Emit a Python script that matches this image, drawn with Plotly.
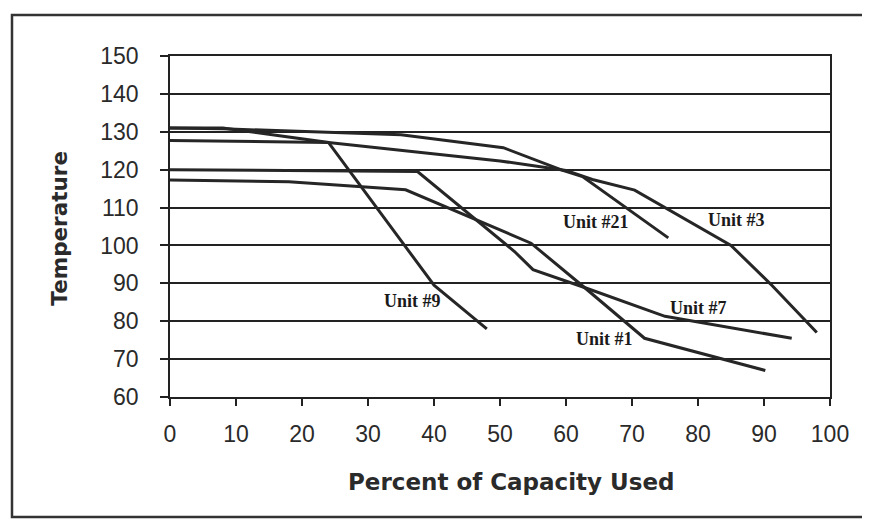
import plotly.graph_objects as go

# Data (Percent of Capacity Used vs Temperature)
unit9_x = [0, 8, 24, 36.5, 40, 48]
unit9_y = [131, 131, 127.2, 98, 89.5, 78]

unit21_x = [0, 8, 35, 50.5, 59.5, 62.5, 75.5]
unit21_y = [131, 130.8, 129.2, 125.8, 119.8, 118.2, 102]

unit3_x = [0, 24, 50, 60, 64, 70.4, 85, 91, 98]
unit3_y = [127.7, 127.2, 122.3, 119.8, 117.4, 114.6, 100, 89.8, 77]

unit7_x = [0, 37.5, 52.2, 55, 62.8, 75, 94.2]
unit7_y = [120, 119.5, 98.4, 93.6, 88.9, 81.3, 75.5]

unit1_x = [0, 18, 35.7, 54.7, 62.8, 71.9, 90.2]
unit1_y = [117.3, 116.8, 114.7, 100.6, 88.9, 75.5, 67]

label_names = ["Unit #21", "Unit #3", "Unit #9", "Unit #7", "Unit #1"]
label_x = [64.6, 85.9, 36.8, 80.0, 65.9]
label_y = [106.3, 106.8, 85.3, 83.4, 75.4]

x_ticks = [0, 10, 20, 30, 40, 50, 60, 70, 80, 90, 100]
y_ticks = [60, 70, 80, 90, 100, 110, 120, 130, 140, 150]

line_color = "#262626"

fig = go.Figure()
series = [
    ("Unit #9", unit9_x, unit9_y),
    ("Unit #21", unit21_x, unit21_y),
    ("Unit #3", unit3_x, unit3_y),
    ("Unit #7", unit7_x, unit7_y),
    ("Unit #1", unit1_x, unit1_y),
]
for name, xs, ys in series:
    fig.add_trace(go.Scatter(x=xs, y=ys, mode="lines", name=name,
                             line=dict(color=line_color, width=3),
                             showlegend=False))

for name, lx, ly in zip(label_names, label_x, label_y):
    fig.add_annotation(x=lx, y=ly, text=f"<b>{name}</b>", showarrow=False,
                       font=dict(family="Liberation Serif", size=18, color="#1a1a1a"),
                       xanchor="center", yanchor="middle")

# Axis titles
fig.add_annotation(xref="paper", yref="paper", x=0.518, y=-0.249,
                   text="<b>Percent of Capacity Used</b>", showarrow=False,
                   font=dict(family="DejaVu Sans", size=23, color="#2a2a2a"),
                   xanchor="center", yanchor="middle")
fig.add_annotation(xref="paper", yref="paper", x=-0.167, y=0.496,
                   text="<b>Temperature</b>", showarrow=False, textangle=-90,
                   font=dict(family="DejaVu Sans", size=21.5, color="#2a2a2a"),
                   xanchor="center", yanchor="middle")

# Outer chart frame
fig.add_shape(type="rect", xref="paper", yref="paper",
              x0=-0.2394, x1=1.1, y0=-0.352, y1=1.12,
              line=dict(color="#333333", width=2.5), layer="below")

fig.update_xaxes(range=[0, 100], tickvals=x_ticks, ticks="outside", ticklen=7,
                 tickwidth=1.5, tickcolor="#222", showline=True, linecolor="#222",
                 linewidth=1.5, mirror=True, showgrid=False, zeroline=False,
                 tickfont=dict(family="Liberation Sans", size=23, color="#2a2a2a"),
                 ticklabelstandoff=9)
fig.update_yaxes(range=[60, 150], tickvals=y_ticks, ticks="outside", ticklen=8,
                 tickwidth=1.5, tickcolor="#222", showline=True, linecolor="#222",
                 linewidth=1.5, mirror=True, showgrid=True, gridcolor="#222",
                 gridwidth=1.5, zeroline=False,
                 tickfont=dict(family="Liberation Sans", size=23, color="#2a2a2a"),
                 ticklabelstandoff=17)

fig.update_layout(width=870, height=525,
                  margin=dict(l=162, r=48, t=48, b=136),
                  paper_bgcolor="white", plot_bgcolor="white")

fig.write_html("out.html")
